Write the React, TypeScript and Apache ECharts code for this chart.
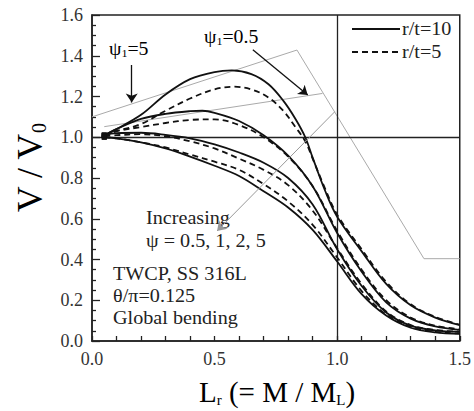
import React, { useEffect, useRef } from 'react';
import * as echarts from 'echarts';

// ---- data ----
const solidPsi05: number[][] = [[0.05,1.01],[0.1,1.04],[0.2,1.11],[0.3,1.21],[0.4,1.285],[0.5,1.32],[0.57,1.328],[0.65,1.31],[0.72,1.26],[0.78,1.18],[0.83,1.09],[0.87,1.0],[0.9,0.9],[0.95,0.74],[1.0,0.61],[1.1,0.44],[1.2,0.28],[1.3,0.175],[1.4,0.115],[1.5,0.078]];
const dashPsi05: number[][] = [[0.05,1.01],[0.1,1.03],[0.2,1.065],[0.3,1.13],[0.4,1.19],[0.5,1.235],[0.58,1.248],[0.65,1.235],[0.72,1.195],[0.78,1.13],[0.83,1.05],[0.87,0.98],[0.9,0.895],[0.95,0.75],[1.0,0.62],[1.1,0.45],[1.2,0.29],[1.3,0.18],[1.4,0.118],[1.5,0.08]];
const solidPsi1: number[][] = [[0.05,1.01],[0.1,1.04],[0.2,1.09],[0.3,1.115],[0.4,1.128],[0.45,1.13],[0.5,1.12],[0.6,1.08],[0.7,1.01],[0.8,0.91],[0.9,0.76],[1.0,0.53],[1.1,0.34],[1.2,0.19],[1.3,0.11],[1.4,0.072],[1.5,0.055]];
const dashPsi1: number[][] = [[0.05,1.01],[0.1,1.03],[0.2,1.05],[0.3,1.07],[0.4,1.085],[0.5,1.088],[0.6,1.06],[0.7,1.0],[0.8,0.905],[0.9,0.76],[1.0,0.54],[1.1,0.35],[1.2,0.2],[1.3,0.115],[1.4,0.075],[1.5,0.058]];
const solidPsi2: number[][] = [[0.05,1.01],[0.1,1.02],[0.2,1.022],[0.3,1.012],[0.4,0.995],[0.5,0.965],[0.6,0.925],[0.7,0.875],[0.8,0.8],[0.9,0.67],[1.0,0.45],[1.1,0.27],[1.2,0.14],[1.3,0.075],[1.4,0.052],[1.5,0.045]];
const dashPsi2: number[][] = [[0.05,1.005],[0.1,1.01],[0.2,1.015],[0.3,1.005],[0.4,0.98],[0.5,0.945],[0.6,0.895],[0.7,0.84],[0.8,0.765],[0.9,0.64],[1.0,0.455],[1.1,0.28],[1.2,0.145],[1.3,0.078],[1.4,0.054],[1.5,0.046]];
const solidPsi5: number[][] = [[0.05,1.0],[0.1,0.995],[0.2,0.975],[0.3,0.945],[0.4,0.905],[0.5,0.86],[0.6,0.81],[0.7,0.735],[0.8,0.655],[0.9,0.545],[1.0,0.39],[1.1,0.23],[1.2,0.125],[1.3,0.065],[1.4,0.042],[1.5,0.035]];
const dashPsi5: number[][] = [[0.05,1.0],[0.1,0.995],[0.2,0.975],[0.3,0.95],[0.4,0.915],[0.5,0.88],[0.6,0.84],[0.7,0.77],[0.8,0.685],[0.9,0.57],[1.0,0.41],[1.1,0.245],[1.2,0.13],[1.3,0.07],[1.4,0.045],[1.5,0.037]];

const grayLine1: number[][] = [[0,1.1],[0.836,1.428],[1.354,0.404],[1.5,0.404]];
const grayLine2: number[][] = [[0.05,1.052],[0.94,1.215]];
const grayArrow: number[][] = [[0.99,1.125],[0.51,0.54]];
const arrowPsi5: number[][] = [[0.162,1.355],[0.162,1.17]];
const arrowPsi05: number[][] = [[0.656,1.43],[0.88,1.207]];

const legendNames = ['r/t=10', 'r/t=5'];
const X_MIN = 0, X_MAX = 1.5, X_INT = 0.5;
const Y_MIN = 0, Y_MAX = 1.6, Y_INT = 0.2;

const SERIF = 'Liberation Serif';
const INK = '#222';

// first point of each curve drawn with a small square marker
const withStartMarker = (data: number[][]) =>
  data.map((p, i) => (i === 0 ? { value: p, symbol: 'rect', symbolSize: 5 } : { value: p, symbol: 'none' }));

export default function App() {
  const ref = useRef<HTMLDivElement>(null);
  useEffect(() => {
    if (!ref.current) return;
    const chart = echarts.init(ref.current, undefined, { renderer: 'svg' });
    const curve = (name: string, data: number[][], type: any) => ({
      type: 'line', name, data: withStartMarker(data), smooth: 0.35, symbol: 'none', showSymbol: true,
      showAllSymbol: true,
      itemStyle: { color: '#111' },
      lineStyle: { color: '#111', width: 1.8, type }, z: 5,
    });
    const gray = (data: number[][], extra: any = {}) => ({
      type: 'line', name: 'g', data, symbol: 'none', showSymbol: false, silent: true,
      lineStyle: { color: '#aaa', width: 1 }, z: 2, ...extra,
    });
    const arrow = (coords: number[][], color: string, width: number) => ({
      type: 'lines', coordinateSystem: 'cartesian2d', silent: true, z: 6,
      symbol: ['none', 'arrow'], symbolSize: [0, 9],
      lineStyle: { color, width, opacity: 1 },
      data: [{ coords }],
    });
    const rich = {
      a: { fontSize: 18, fontFamily: SERIF, color: INK },
      s: { fontSize: 11, fontFamily: SERIF, color: INK, padding: [10, 0, 0, 0] },
    };
    const note = (text: string, left: number, top: number) => ({
      type: 'text', x: left, y: top, scaleX: 1.12,
      style: { text, fontSize: 18, fontFamily: SERIF, fill: INK, verticalAlign: 'top' },
    });
    chart.setOption({
      animation: false,
      backgroundColor: '#fff',
      grid: { left: 92, right: 13, top: 15, bottom: 70, show: true, borderColor: INK, borderWidth: 1.5 },
      xAxis: {
        type: 'value', min: X_MIN, max: X_MAX, interval: X_INT,
        axisLine: { show: true, lineStyle: { color: INK, width: 1.5 } },
        axisTick: { show: true, inside: true, length: 5, lineStyle: { color: INK, width: 1.3 } },
        minorTick: { show: true, splitNumber: 5, length: 5, lineStyle: { color: INK, width: 1.3 } },
        splitLine: { show: false },
        axisLabel: { fontSize: 18, fontFamily: SERIF, color: '#333', margin: 9, formatter: (v: number) => v.toFixed(1) },
      },
      yAxis: {
        type: 'value', min: Y_MIN, max: Y_MAX, interval: Y_INT,
        axisLine: { show: true, lineStyle: { color: INK, width: 1.5 } },
        axisTick: { show: true, inside: true, length: 8, lineStyle: { color: INK, width: 1.3 } },
        minorTick: { show: true, splitNumber: 4, length: 4, lineStyle: { color: INK, width: 1.3 } },
        splitLine: { show: false },
        axisLabel: { fontSize: 18, fontFamily: SERIF, color: '#333', margin: 9, formatter: (v: number) => v.toFixed(1) },
      },
      series: [
        gray(grayLine1, {
          markLine: {
            silent: true, symbol: 'none', label: { show: false }, z: 3,
            lineStyle: { color: INK, width: 1.3, type: 'solid' },
            data: [{ xAxis: 1 }, { yAxis: 1 }],
          },
        }),
        gray(grayLine2),
        arrow(grayArrow, '#999', 1),
        arrow(arrowPsi5, '#111', 1.3),
        arrow(arrowPsi05, '#111', 1.3),
        curve(legendNames[0], solidPsi05, 'solid'), curve(legendNames[1], dashPsi05, [6, 4]),
        curve(legendNames[0], solidPsi1, 'solid'), curve(legendNames[1], dashPsi1, [6, 4]),
        curve(legendNames[0], solidPsi2, 'solid'), curve(legendNames[1], dashPsi2, [6, 4]),
        curve(legendNames[0], solidPsi5, 'solid'), curve(legendNames[1], dashPsi5, [6, 4]),
      ],
      graphic: [
        // legend
        { type: 'line', shape: { x1: 352, y1: 29, x2: 400, y2: 29 }, style: { stroke: '#111', lineWidth: 1.8 } },
        { type: 'line', shape: { x1: 352, y1: 52, x2: 400, y2: 52 }, style: { stroke: '#111', lineWidth: 1.8, lineDash: [6, 4] } },
        { type: 'text', x: 402, y: 29, scaleX: 1.12, style: { text: legendNames[0], fontSize: 18, fontFamily: SERIF, fill: INK, verticalAlign: 'middle' } },
        { type: 'text', x: 402, y: 52, scaleX: 1.12, style: { text: legendNames[1], fontSize: 18, fontFamily: SERIF, fill: INK, verticalAlign: 'middle' } },
        // annotations
        { type: 'text', x: 109, y: 38, scaleX: 1.1, style: { text: '{a|ψ}{s|1}{a|=5}', rich } },
        { type: 'text', x: 204, y: 26, scaleX: 1.1, style: { text: '{a|ψ}{s|1}{a|=0.5}', rich } },
        note('Increasing', 146, 209),
        note('ψ = 0.5, 1, 2, 5', 146, 232),
        note('TWCP, SS 316L', 113, 265),
        note('θ/π=0.125', 113, 287),
        note('Global bending', 113, 309),
        {
          type: 'text', x: 30, y: 168, rotation: Math.PI / 2,
          style: {
            text: '{a|V / V}{s|0}', align: 'center', verticalAlign: 'middle',
            rich: {
              a: { fontSize: 36, fontFamily: SERIF, color: INK },
              s: { fontSize: 20, fontFamily: SERIF, color: INK, padding: [18, 0, 0, 0] },
            },
          },
        },
        {
          type: 'text', x: 277, y: 392,
          style: {
            text: '{a|L}{s|r}{a| (= M / M}{s|L}{a|)}', align: 'center', verticalAlign: 'middle',
            rich: {
              a: { fontSize: 29, fontFamily: SERIF, color: INK },
              s: { fontSize: 15, fontFamily: SERIF, color: INK, padding: [16, 0, 0, 0] },
            },
          },
        },
      ],
    });
    return () => chart.dispose();
  }, []);
  return <div ref={ref} style={{ position: 'fixed', left: 0, top: 0, width: 474, height: 411 }} />;
}
